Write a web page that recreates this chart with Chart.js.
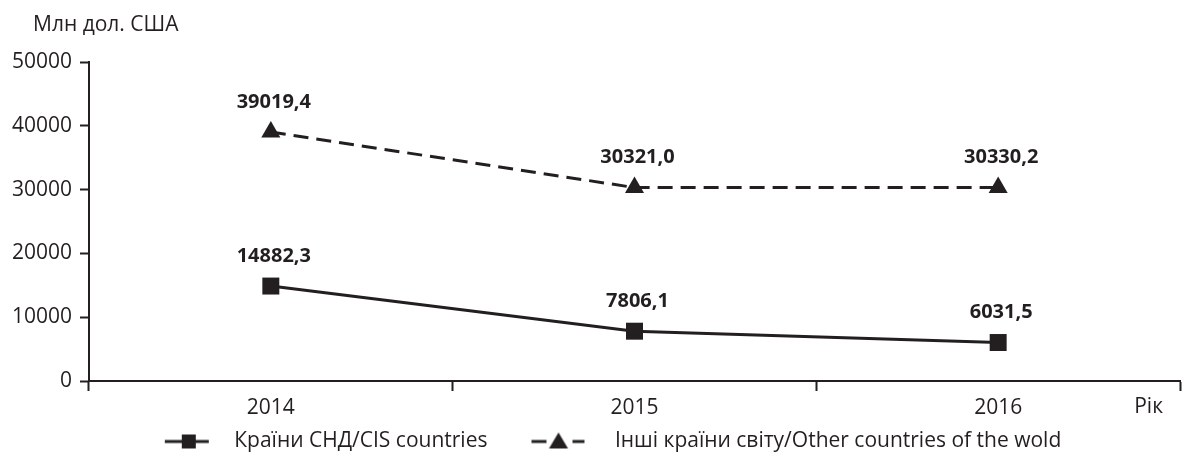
<!DOCTYPE html>
<html>
<head>
<meta charset="utf-8">
<script src="https://cdn.jsdelivr.net/npm/chart.js@4"></script>
<style>
  html, body { margin: 0; padding: 0; background: #fff; }
  #wrap { width: 1186px; height: 462px; }
</style>
</head>
<body>
<div id="wrap"><canvas id="myChart" width="1186" height="462"></canvas></div>
<script>
// * Data
const years = ["2014", "2015", "2016"];
const cisValues = [14882.3, 7806.1, 6031.5];
const otherValues = [39019.4, 30321.0, 30330.2];
const yTicks = [0, 10000, 20000, 30000, 40000, 50000];
const seriesNames = ["Країни СНД/CIS countries", "Інші країни світу/Other countries of the wold"];
const unitLabel = "Млн дол. США";
const axisLabel = "Рік";

// * Styles
const INK = "#231f20";
const FONT = "'Open Sans', 'Noto Sans', sans-serif";

// * Legend icons (one shared box width, the marks sit inside it)
function makeIcon(kind) {
  const c = document.createElement("canvas");
  c.width = 105;
  c.height = 24;
  const g = c.getContext("2d");
  g.fillStyle = INK;
  if (kind === "square") {
    const o = 46;
    g.fillRect(o, 10.5, 44, 3);
    g.fillRect(o + 17, 5, 14, 14);
  } else {
    const o = 32;
    g.fillRect(o, 10.5, 15, 3);
    g.fillRect(o + 41, 10.5, 12, 3);
    g.beginPath();
    g.moveTo(o + 27, 3);
    g.lineTo(o + 36.5, 19);
    g.lineTo(o + 17.5, 19);
    g.closePath();
    g.fill();
  }
  return c;
}
const icons = [makeIcon("square"), makeIcon("triangle")];

// * Plugin for texts
const textPlugin = {
  id: "texts",
  afterDatasetsDraw(chart) {
    const ctx = chart.ctx;
    ctx.save();
    ctx.fillStyle = INK;
    ctx.font = "bold 20px " + FONT;
    ctx.textAlign = "center";
    ctx.textBaseline = "middle";
    chart.data.datasets.forEach((ds, i) => {
      chart.getDatasetMeta(i).data.forEach((pt, j) => {
        const txt = ds.data[j].toFixed(1).replace(".", ",");
        ctx.fillText(txt, pt.x + 3, pt.y - 30);
      });
    });
    ctx.font = "21px " + FONT;
    ctx.textAlign = "left";
    ctx.fillText(unitLabel, 33, 25);
    ctx.textAlign = "right";
    ctx.fillText(axisLabel, 1163, 407);
    ctx.restore();
  },
};

const Canvas = document.getElementById("myChart").getContext("2d");

const config = {
  type: "line",
  data: {
    labels: years,
    datasets: [
      {
        label: seriesNames[0],
        data: cisValues,
        borderColor: INK,
        backgroundColor: INK,
        borderWidth: 3,
        pointStyle: "rect",
        pointRadius: 12,
        pointBorderWidth: 0,
        tension: 0,
      },
      {
        label: seriesNames[1],
        data: otherValues,
        borderColor: INK,
        backgroundColor: INK,
        borderWidth: 3,
        borderDash: [15, 8],
        pointStyle: "triangle",
        pointRadius: 11,
        pointBorderWidth: 0,
        tension: 0,
      },
    ],
  },
  options: {
    responsive: false,
    animation: false,
    layout: {
      autoPadding: false,
      padding: { top: 62, left: 0, right: 6, bottom: 0 },
    },
    scales: {
      x: {
        offset: true,
        grid: {
          offset: true,
          drawOnChartArea: false,
          tickLength: 10,
          tickColor: INK,
          tickWidth: 2,
        },
        border: { display: true, color: INK, width: 2 },
        ticks: {
          color: INK,
          font: { family: FONT, size: 21 },
          padding: 4,
          maxRotation: 0,
        },
        afterFit(scale) {
          scale.height = 38;
        },
      },
      y: {
        min: 0,
        max: 50000,
        afterBuildTicks(scale) {
          scale.ticks = yTicks.map((v) => ({ value: v }));
        },
        grid: {
          drawOnChartArea: false,
          tickLength: 9,
          tickColor: INK,
          tickWidth: 2,
        },
        border: { display: true, color: INK, width: 2 },
        ticks: {
          color: INK,
          font: { family: FONT, size: 21 },
          padding: 8,
          callback: function (value) {
            return String(value);
          },
        },
        afterFit(scale) {
          scale.width = 89;
        },
      },
    },
    plugins: {
      tooltip: { enabled: false },
      legend: {
        position: "bottom",
        labels: {
          usePointStyle: true,
          pointStyleWidth: 105,
          padding: 12,
          color: INK,
          font: { family: FONT, size: 21 },
          generateLabels(chart) {
            return Chart.defaults.plugins.legend.labels
              .generateLabels(chart)
              .map((item, i) => Object.assign(item, { pointStyle: icons[i] }));
          },
        },
      },
    },
  },
  plugins: [textPlugin],
};

const myChart = new Chart(Canvas, config);
</script>
</body>
</html>
